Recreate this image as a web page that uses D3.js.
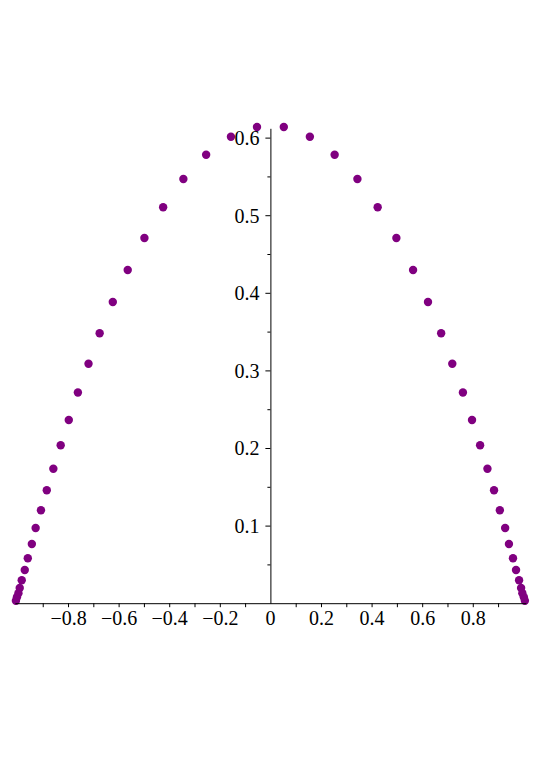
<!DOCTYPE html>
<html>
<head>
<meta charset="utf-8">
<script src="https://cdn.jsdelivr.net/npm/d3@7"></script>
<style>
  html, body { margin: 0; padding: 0; background: #ffffff; }
  svg { display: block; }
  text { font-family: "Liberation Serif", "Times New Roman", serif; }
</style>
</head>
<body>
<svg id="chart" width="540" height="764"></svg>
<script>
// ---- data ----
const xValues = [
  -1.006, -1.002, -0.996, -0.991, -0.983, -0.971, -0.959, -0.943, -0.928, -0.907,
  -0.884, -0.858, -0.829, -0.797, -0.761, -0.719, -0.675, -0.623, -0.564, -0.498,
  -0.424, -0.344, -0.254, -0.156, -0.053,
   0.053,  0.156,  0.254,  0.344,  0.424,  0.498,  0.564,  0.623,  0.675,  0.719,
   0.761,  0.797,  0.829,  0.858,  0.884,  0.907,  0.928,  0.943,  0.959,  0.971,
   0.983,  0.991,  0.996,  1.002,  1.006
];
const yValues = [
  0.0032, 0.0076, 0.0128, 0.0196, 0.0295, 0.0428, 0.0579, 0.0763, 0.0969, 0.1197,
  0.1455, 0.1733, 0.2035, 0.2361, 0.2715, 0.3086, 0.3478, 0.3881, 0.4294, 0.4706,
  0.5102, 0.5466, 0.5780, 0.6012, 0.6137,
  0.6137, 0.6012, 0.5780, 0.5466, 0.5102, 0.4706, 0.4294, 0.3881, 0.3478, 0.3086,
  0.2715, 0.2361, 0.2035, 0.1733, 0.1455, 0.1197, 0.0969, 0.0763, 0.0579, 0.0428,
  0.0295, 0.0196, 0.0128, 0.0076, 0.0032
];
const xTicks = [-0.9, -0.8, -0.7, -0.6, -0.5, -0.4, -0.3, -0.2, -0.1,
                 0.1, 0.2, 0.3, 0.4, 0.5, 0.6, 0.7, 0.8, 0.9];
const xTickLabels = [-0.8, -0.6, -0.4, -0.2, 0.2, 0.4, 0.6, 0.8];
const yMajorTicks = [0.1, 0.2, 0.3, 0.4, 0.5, 0.6];
const yMinorTicks = [0.05, 0.15, 0.25, 0.35, 0.45, 0.55];

// ---- layout ----
const svg = d3.select("#chart");
const xDomain = [-1.01, 1.01];
const yDomain = [0, 0.612];
const x = d3.scaleLinear().domain(xDomain).range([14.9, 525.9]);
const y = d3.scaleLinear().domain(yDomain).range([603.2, 128.3]);
const color = "#800080";

const points = xValues.map((v, i) => ({x: v, y: yValues[i]}));

// points
svg.append("g")
  .selectAll("circle")
  .data(points)
  .join("circle")
  .attr("cx", d => x(d.x))
  .attr("cy", d => y(d.y))
  .attr("r", 4.2)
  .attr("fill", color);

// x axis
const x0 = x(0), y0 = y(0);
const fmt = d3.format(".1f");
const xAxis = d3.axisBottom(x)
  .tickValues(xTicks)
  .tickSize(4)
  .tickSizeOuter(0)
  .tickFormat(d => xTickLabels.some(t => Math.abs(t - d) < 1e-9) ? fmt(d) : "");
const gx = svg.append("g")
  .attr("transform", `translate(0,${y0})`)
  .call(xAxis);
gx.select(".domain").attr("stroke", "#000").attr("stroke-width", 1);
gx.selectAll(".tick line").attr("stroke", "#000");
gx.selectAll(".tick text")
  .attr("fill", "#000")
  .attr("font-size", 20)
  .attr("font-family", "'Liberation Serif', 'Times New Roman', serif")
  .attr("y", 8)
  .attr("dy", "0.71em");
// label "0" at the origin
svg.append("text")
  .attr("x", x0)
  .attr("y", y0 + 8)
  .attr("dy", "0.71em")
  .attr("text-anchor", "middle")
  .attr("font-size", 20)
  .attr("fill", "#000")
  .text("0");

// y axis (major)
const yAxis = d3.axisLeft(y)
  .tickValues(yMajorTicks)
  .tickSize(5)
  .tickSizeOuter(0)
  .tickFormat(fmt);
const gy = svg.append("g")
  .attr("transform", `translate(${x0},0)`)
  .call(yAxis);
gy.select(".domain").attr("stroke", "#000").attr("stroke-width", 1);
gy.selectAll(".tick line").attr("stroke", "#000");
gy.selectAll(".tick text")
  .attr("fill", "#000")
  .attr("font-size", 20)
  .attr("font-family", "'Liberation Serif', 'Times New Roman', serif")
  .attr("x", -11)
  .attr("dy", "0.34em");

// y axis (minor)
const yAxisMinor = d3.axisLeft(y)
  .tickValues(yMinorTicks)
  .tickSize(3)
  .tickSizeOuter(0)
  .tickFormat("");
const gym = svg.append("g")
  .attr("transform", `translate(${x0},0)`)
  .call(yAxisMinor);
gym.select(".domain").remove();
gym.selectAll(".tick line").attr("stroke", "#000");
</script>
</body>
</html>
